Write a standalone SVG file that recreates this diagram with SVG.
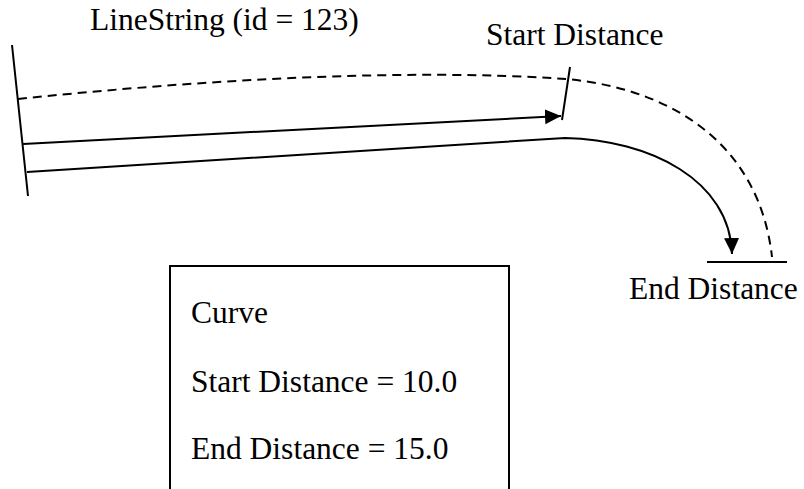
<svg xmlns="http://www.w3.org/2000/svg" width="804" height="489" viewBox="0 0 804 489">
  <style>
    .ln { fill: none; stroke: #000; stroke-width: 2; }
    .dash { fill: none; stroke: #000; stroke-width: 2; stroke-dasharray: 9 6; }
    .lbl { font-family: "Liberation Serif", "Times New Roman", serif; font-size: 31.5px; fill: #000; }
  </style>
  <defs>
    <marker id="arrow" markerUnits="userSpaceOnUse" markerWidth="17" markerHeight="16" refX="16" refY="7.5" orient="auto">
      <path d="M0,0 L16,7.5 L0,15 z" fill="#000"/>
    </marker>
  </defs>
  <rect width="804" height="489" fill="#fff"/>
  <g id="connectors">
    <line class="ln" x1="12" y1="45" x2="28" y2="196"/>
    <path class="dash" d="M18,99 C200,80 400,68 567,79 C680,90 760,150 772,257"/>
    <line class="ln" x1="23" y1="144" x2="561" y2="116" marker-end="url(#arrow)"/>
    <line class="ln" x1="570" y1="67" x2="562" y2="120"/>
    <path class="ln" d="M27,172 L565,138 C650,140 730,180 732,254" marker-end="url(#arrow)"/>
    <line class="ln" x1="707" y1="262" x2="787" y2="262"/>
  </g>
  <g id="linestring-label">
    <text class="lbl" x="90" y="30">LineString (id = 123)</text>
  </g>
  <g id="start-label">
    <text class="lbl" x="486" y="45">Start Distance</text>
  </g>
  <g id="end-label">
    <text class="lbl" x="629" y="299">End Distance</text>
  </g>
  <g id="curve-box">
    <path class="ln" d="M170,495 V266 H509 V495"/>
    <text class="lbl" x="191" y="323">Curve</text>
    <text class="lbl" x="191" y="392">Start Distance = 10.0</text>
    <text class="lbl" x="191" y="459">End Distance = 15.0</text>
  </g>
</svg>
